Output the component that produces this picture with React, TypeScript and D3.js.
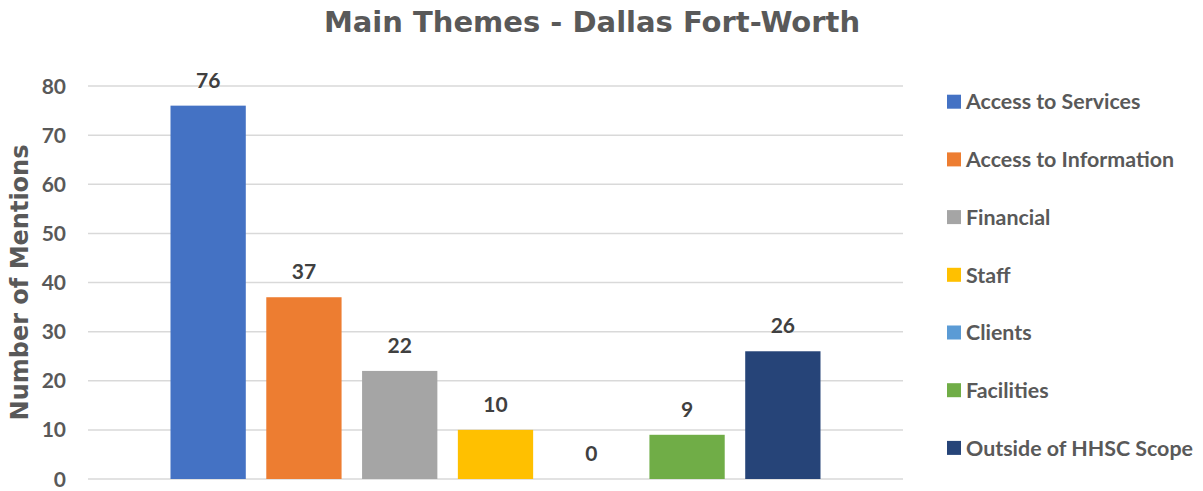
import React from "react";
import * as d3 from "d3";

const title = "Main Themes - Dallas Fort-Worth";
const yAxisTitle = "Number of Mentions";
const seriesNames = [
  "Access to Services",
  "Access to Information",
  "Financial",
  "Staff",
  "Clients",
  "Facilities",
  "Outside of HHSC Scope",
];
const seriesValues = [76, 37, 22, 10, 0, 9, 26];
const seriesColors = ["#4472C4", "#ED7D31", "#A5A5A5", "#FFC000", "#5B9BD5", "#70AD47", "#264478"];
const yTicks = [0, 10, 20, 30, 40, 50, 60, 70, 80];

const W = 1203;
const H = 491;
const plotLeft = 88;
const plotRight = 903;
const plotTop = 86;
const plotBottom = 479;
const FONT = "Lato, 'Open Sans', sans-serif";
const WIDE = "'DejaVu Sans', Verdana, sans-serif";

export default function App() {
  const y = d3.scaleLinear().domain([0, 80]).range([plotBottom, plotTop]);
  const groupPad = 82.5;
  const x = d3
    .scaleBand<string>()
    .domain(seriesNames)
    .range([plotLeft + groupPad - 10.25, plotRight - groupPad + 10.25])
    .paddingInner(0.214)
    .paddingOuter(0.107);

  const legendY0 = 101.7;
  const legendStep = 57.7;

  return (
    <svg width={W} height={H} style={{ position: "absolute", left: 0, top: 0, background: "#fff" }}>
      <rect x={0} y={0} width={W} height={H} fill="#fff" />
      <text x={592} y={31.5} textAnchor="middle" fontFamily={WIDE} fontWeight={700} fontSize={29} fill="#595959">
        {title}
      </text>
      {yTicks.map((t) => (
        <g key={t}>
          <line x1={plotLeft} x2={plotRight} y1={y(t)} y2={y(t)} stroke="#D9D9D9" strokeWidth={1.5} />
          <text x={66} y={y(t)} dy="0.36em" textAnchor="end" fontFamily={FONT} fontWeight={700} fontSize={21} fill="#595959">
            {t}
          </text>
        </g>
      ))}
      <text
        transform={`translate(28,${282.5}) rotate(-90)`}
        textAnchor="middle"
        fontFamily={WIDE}
        fontWeight={700}
        fontSize={24}
        fill="#595959"
      >
        {yAxisTitle}
      </text>
      {seriesNames.map((s, i) => {
        const v = seriesValues[i];
        const bx = x(s)!;
        return (
          <g key={s}>
            {v > 0 && (
              <rect x={bx} y={y(v)} width={x.bandwidth()} height={plotBottom - y(v)} fill={seriesColors[i]} />
            )}
            <text
              x={bx + x.bandwidth() / 2}
              y={y(v) - 18}
              textAnchor="middle"
              fontFamily={FONT}
              fontWeight={700}
              fontSize={21}
              fill="#404040"
            >
              {v}
            </text>
          </g>
        );
      })}
      {seriesNames.map((s, i) => (
        <g key={s} transform={`translate(947,${legendY0 + i * legendStep})`}>
          <rect x={0} y={-7} width={14} height={14} fill={seriesColors[i]} />
          <text x={19} y={0} dy="0.36em" fontFamily={FONT} fontWeight={700} fontSize={21.4} fill="#595959">
            {s}
          </text>
        </g>
      ))}
    </svg>
  );
}
